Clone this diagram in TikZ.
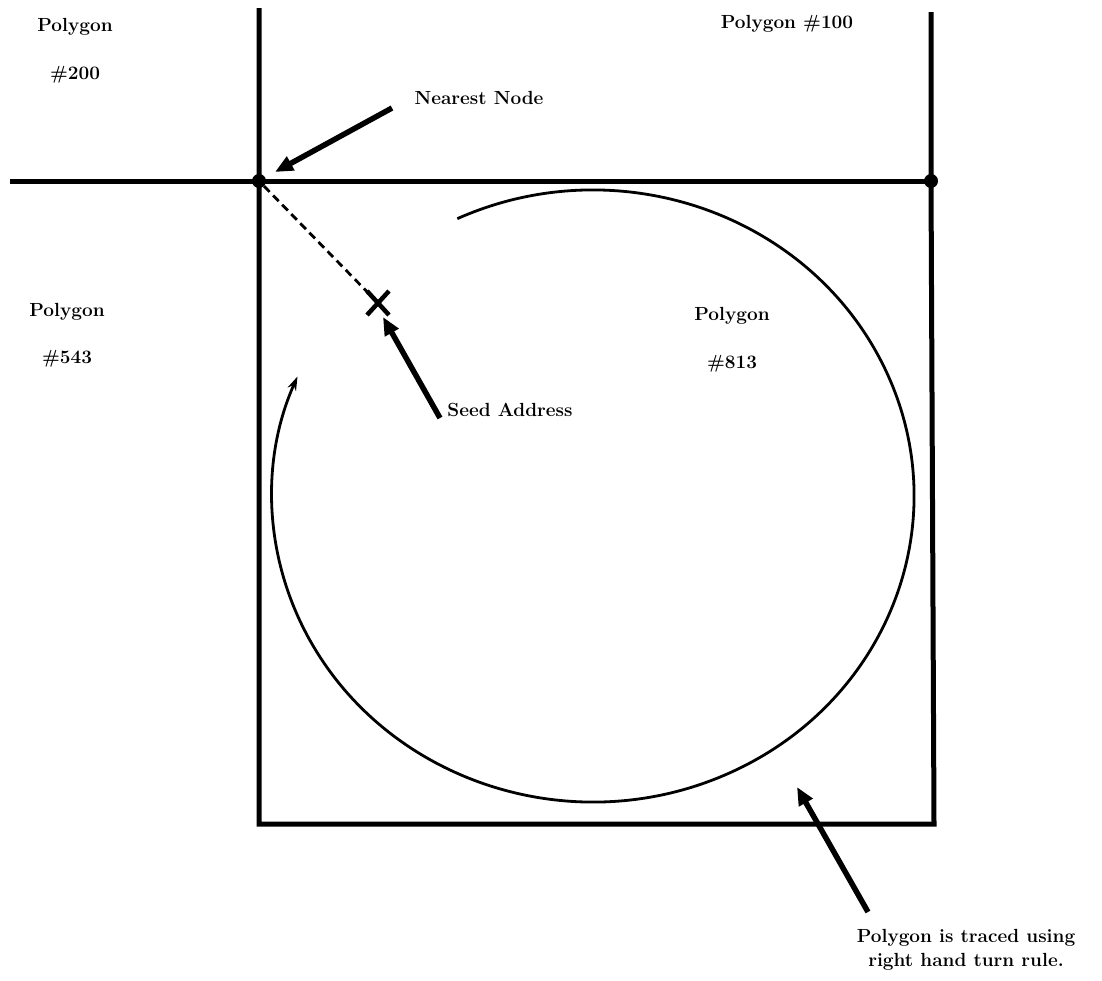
\documentclass[tikz,border=0pt]{standalone}
\usetikzlibrary{arrows.meta,calc}
\begin{document}
\begin{tikzpicture}[x=1pt,y=-1pt,
  frame/.style={line width=5pt},
  dot/.style={circle,fill=black,inner sep=0pt,minimum size=14pt},
  lbl/.style={font=\fontsize{19}{21}\selectfont\bfseries,inner sep=0pt,align=center},
  bigarrow/.style={line width=5.5pt,-{Triangle[length=18pt,width=15pt]}},
  trace/.style={line width=2.8pt,-{Stealth[length=14pt,width=9pt]}},
  dashline/.style={line width=2.8pt,dash pattern=on 8pt off 5pt}]
\useasboundingbox (0,0) rectangle (1102,980);
% grid points
\coordinate (Ltop) at (259,8);
\coordinate (Rtop) at (931,12);
\coordinate (Hleft) at (10,181);
\coordinate (BL) at (259,824);
\coordinate (BR) at (934,824);
\node[dot] (n1) at (259,181) {};
\node[dot] (n2) at (931,181) {};
% frame lines
\draw[frame] (Ltop) -- (n1.center) -- (BL) -- (BR) -- (n2.center) -- (Rtop);
\draw[frame] (Hleft) -- (n1.center) -- (n2.center);
% seed
\coordinate (seed) at (378,303);
\draw[dashline] (n1) -- (seed);
\draw[line width=4.5pt] ($(seed)+(-11,-12)$) -- ($(seed)+(11,12)$);
\draw[line width=4.5pt] ($(seed)+(-11,12)$) -- ($(seed)+(11,-12)$);
% traced circle
\coordinate (c) at (593,496);
\draw[trace] ($(c)+(115:321pt and 306pt)$) arc[start angle=115,end angle=-203,x radius=321pt,y radius=306pt];
% labels
\node[lbl] (p200) at (75,27) {Polygon};
\node[lbl] (p200b) at (75,75) {\#200};
\node[lbl] (p100) at (787,24) {Polygon \#100};
\node[lbl] (near) at (479,98) {Nearest Node};
\node[lbl] (p543) at (67,312) {Polygon};
\node[lbl] (p543b) at (67,359) {\#543};
\node[lbl] (p813) at (732,316) {Polygon};
\node[lbl] (p813b) at (732,364) {\#813};
\node[lbl] (seedl) at (510,410) {Seed Address};
\node[lbl] (trl) at (966,938) {Polygon is traced using};
\node[lbl] (trl2) at (966,962) {right hand turn rule.};
% arrows
\coordinate (a1) at (392,108);
\coordinate (a2) at (440,418);
\coordinate (a3) at (868,912);
\draw[bigarrow] (a1) -- ($(n1.center)+(16,-9)$);
\draw[bigarrow] (a2) -- ($(seed)+(5,14)$);
\draw[bigarrow] (a3) -- (797,787);
\end{tikzpicture}
\end{document}
